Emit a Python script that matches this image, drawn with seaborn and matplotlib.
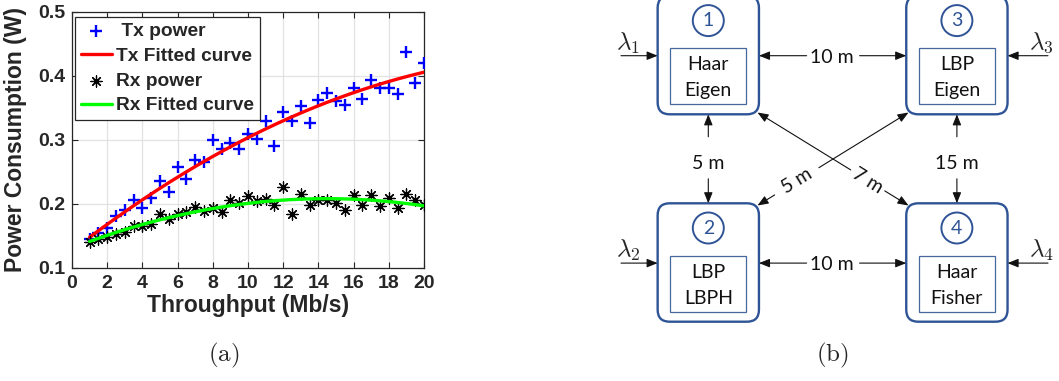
import numpy as np
import matplotlib
matplotlib.use("Agg")
import matplotlib.pyplot as plt
from matplotlib.patches import FancyBboxPatch, Rectangle, Circle
import seaborn as sns

# ---------------- data: power consumption vs throughput ----------------
throughput = np.arange(1.0, 20.01, 0.5)
tx_power = [0.145, 0.155, 0.162, 0.181, 0.191, 0.206, 0.193, 0.210, 0.236, 0.219,
            0.258, 0.239, 0.269, 0.265, 0.300, 0.286, 0.296, 0.286, 0.310, 0.301,
            0.330, 0.290, 0.343, 0.330, 0.353, 0.327, 0.362, 0.374, 0.361, 0.354,
            0.381, 0.364, 0.393, 0.382, 0.381, 0.372, 0.437, 0.389, 0.421]
rx_power = [0.141, 0.145, 0.148, 0.153, 0.157, 0.165, 0.166, 0.168, 0.184, 0.177,
            0.184, 0.187, 0.195, 0.189, 0.194, 0.188, 0.207, 0.202, 0.213, 0.204,
            0.208, 0.198, 0.226, 0.184, 0.215, 0.198, 0.206, 0.206, 0.201, 0.191,
            0.214, 0.198, 0.214, 0.197, 0.210, 0.193, 0.215, 0.206, 0.198]
x_ticks = [0, 2, 4, 6, 8, 10, 12, 14, 16, 18, 20]
y_ticks = [0.1, 0.2, 0.3, 0.4, 0.5]
series_labels = [" Tx power", "Tx Fitted curve", "Rx power", "Rx Fitted curve"]

# ---------------- data: camera network ----------------
node_ids = ["1", "2", "3", "4"]
node_methods = [("Haar", "Eigen"), ("LBP", "LBPH"), ("LBP", "Eigen"), ("Haar", "Fisher")]
node_rates = [r"$\lambda_1$", r"$\lambda_2$", r"$\lambda_3$", r"$\lambda_4$"]
link_pairs = [(0, 2), (1, 3), (0, 1), (2, 3), (1, 2), (0, 3)]
link_labels = ["10 m", "10 m", "5 m", "15 m", "5 m", "7 m"]

W, H = 1059, 381
sns.set_style("ticks")
plt.rcParams["font.family"] = ["Liberation Sans", "DejaVu Sans"]
plt.rcParams["mathtext.fontset"] = "cm"

fig = plt.figure(figsize=(W / 100, H / 100), dpi=100)

# ---------------- panel (a) ----------------
ax = fig.add_axes([72 / W, 1 - 268 / H, (424 - 72) / W, (268 - 12) / H])

# quadratic least-squares fits of the measured powers
xfit = np.linspace(throughput[0], throughput[-1], 200)
tx_fit = np.polyval(np.polyfit(throughput, tx_power, 2), xfit)
rx_fit = np.polyval(np.polyfit(throughput, rx_power, 2), xfit)

sns.scatterplot(x=throughput, y=tx_power, marker="+", color="#0000ff", s=80,
                linewidth=1.7, label=series_labels[0], ax=ax, zorder=3)
sns.lineplot(x=xfit, y=tx_fit, color="#ff0000", linewidth=2.4,
             label=series_labels[1], ax=ax, zorder=4)
sns.scatterplot(x=throughput, y=rx_power, marker=(8, 2, 0), color="black", s=64,
                linewidth=0.9, label=series_labels[2], ax=ax, zorder=5)
sns.lineplot(x=xfit, y=rx_fit, color="#00ff00", linewidth=2.4,
             label=series_labels[3], ax=ax, zorder=6)

ax.set_xlim(0, 20)
ax.set_ylim(0.1, 0.5)
ax.set_xticks(x_ticks)
ax.set_yticks(y_ticks)
ax.set_yticklabels([f"{v:.1f}" for v in y_ticks])
ax.grid(True, color="#e2e2e2", linewidth=0.9)
ax.set_axisbelow(True)
for sp in ax.spines.values():
    sp.set_visible(True)
    sp.set_color("#262626")
    sp.set_linewidth(0.9)
ax.tick_params(direction="in", top=True, right=True, length=4, width=0.8,
               colors="#262626", labelsize=14, pad=5)
for lab in ax.get_xticklabels() + ax.get_yticklabels():
    lab.set_fontweight("bold")
ax.set_xlabel("Throughput (Mb/s)", fontsize=16.5, fontweight="bold",
              color="#262626", labelpad=1.5)
ax.set_ylabel("Power Consumption (W)", fontsize=16.5, fontweight="bold",
              color="#262626", labelpad=8)

leg = ax.legend(loc="upper left", bbox_to_anchor=(0.008, 0.980),
                prop={"weight": "bold", "size": 13.8}, frameon=True,
                fancybox=False, edgecolor="#262626", framealpha=1,
                handlelength=1.65, handletextpad=0.2, borderpad=0.3,
                labelspacing=0.38, borderaxespad=0, scatterpoints=1)
leg.get_frame().set_linewidth(0.9)

fig.text(224 / W, 1 - 355 / H, r"$\mathrm{(a)}$", fontsize=18,
         ha="center", va="center")

# ---------------- panel (b) ----------------
dax = fig.add_axes([580 / W, 0, (W - 580) / W, 1])
dax.set_xlim(580, W)
dax.set_ylim(H, 0)
dax.axis("off")

blue = "#2f5496"
inner_blue = "#46689c"
box_w, box_h = 101.3, 118.4
centers = [(708.3, 55.1), (708.3, 262.5), (956.9, 55.1), (956.9, 262.5)]
diagram_font = ["Lato", "DejaVu Sans"]
arrow_kw = dict(arrowstyle="-|>,head_length=0.5,head_width=0.2",
                mutation_scale=13, color="#111111", lw=0.8,
                shrinkA=0, shrinkB=0)


def arrow(start, end):
    dax.annotate("", xy=end, xytext=start, arrowprops=arrow_kw)


for i, (cx, cy) in enumerate(centers):
    dax.add_patch(FancyBboxPatch((cx - box_w / 2, cy - box_h / 2), box_w, box_h,
                                 boxstyle="round,pad=0,rounding_size=12",
                                 fc="white", ec=blue, lw=1.7, zorder=2))
    dax.add_patch(Rectangle((cx - 38, cy + 21 - 28), 76, 56, fc="none",
                            ec=inner_blue, lw=0.9, zorder=3))
    dax.add_patch(Circle((cx, cy - 34.5), 15.5, fc="none", ec=blue, lw=1.4,
                         zorder=3))
    dax.text(cx, cy - 34.5, node_ids[i], ha="center", va="center",
             fontsize=14, color=blue, family=diagram_font, zorder=4)
    top_line, bottom_line = node_methods[i]
    dax.text(cx, cy + 21 - 6, top_line, ha="center", va="baseline",
             fontsize=14, color="#111111", family=diagram_font, zorder=4)
    dax.text(cx, cy + 21 + 20, bottom_line, ha="center", va="baseline",
             fontsize=14, color="#111111", family=diagram_font, zorder=4)
    # arrival-rate inputs from the outside
    if cx < 800:
        arrow((621, cy + 0.6), (cx - box_w / 2, cy + 0.6))
        dax.text(628, cy - 12, node_rates[i], ha="center", va="center",
                 fontsize=18)
    else:
        arrow((1048, cy + 0.6), (cx + box_w / 2, cy + 0.6))
        dax.text(1041, cy - 12, node_rates[i], ha="center", va="center",
                 fontsize=18)

# straight links (horizontal and vertical), label in a gap of the line
for (a, b), lab in zip(link_pairs[:4], link_labels[:4]):
    (ax0, ay0), (bx0, by0) = centers[a], centers[b]
    if abs(ay0 - by0) < 1:  # horizontal link
        y = ay0 + 0.6
        x1, x2 = ax0 + box_w / 2, bx0 - box_w / 2
        xm = (x1 + x2) / 2
        arrow((xm - 26, y), (x1, y))
        arrow((xm + 27, y), (x2, y))
        dax.text(xm - 1, y + 7, lab, ha="center", va="baseline",
                 fontsize=14, color="#111111", family=diagram_font)
    else:  # vertical link
        x = ax0
        y1, y2 = ay0 + box_h / 2, by0 - box_h / 2
        ym = (y1 + y2) / 2
        arrow((x, ym - 22), (x, y1))
        arrow((x, ym + 20), (x, y2))
        dax.text(x, ym + 10, lab, ha="center", va="baseline",
                 fontsize=14, color="#111111", family=diagram_font)

# diagonal links between opposite corners, crossing in the middle
corner = {0: (757.5, 112.5), 1: (757.5, 205.5), 2: (908.5, 112.5), 3: (908.5, 205.5)}
label_pos = {4: (0.26, 26), 5: (0.73, 20)}
for k in (4, 5):
    a, b = link_pairs[k]
    p, q = np.array(corner[a]), np.array(corner[b])
    t, gap = label_pos[k]
    d = (q - p) / np.linalg.norm(q - p)
    m = p + t * (q - p)
    arrow(tuple(m - gap * d), tuple(p))
    arrow(tuple(m + gap * d), tuple(q))
    ang = -np.degrees(np.arctan2(q[1] - p[1], q[0] - p[0]))
    dax.text(m[0], m[1], link_labels[k], ha="center", va="center",
             rotation=ang, rotation_mode="anchor", fontsize=14,
             color="#111111", family=diagram_font)

fig.text(832 / W, 1 - 355 / H, r"$\mathrm{(b)}$", fontsize=18,
         ha="center", va="center")

fig.savefig("out.png", dpi=100)
